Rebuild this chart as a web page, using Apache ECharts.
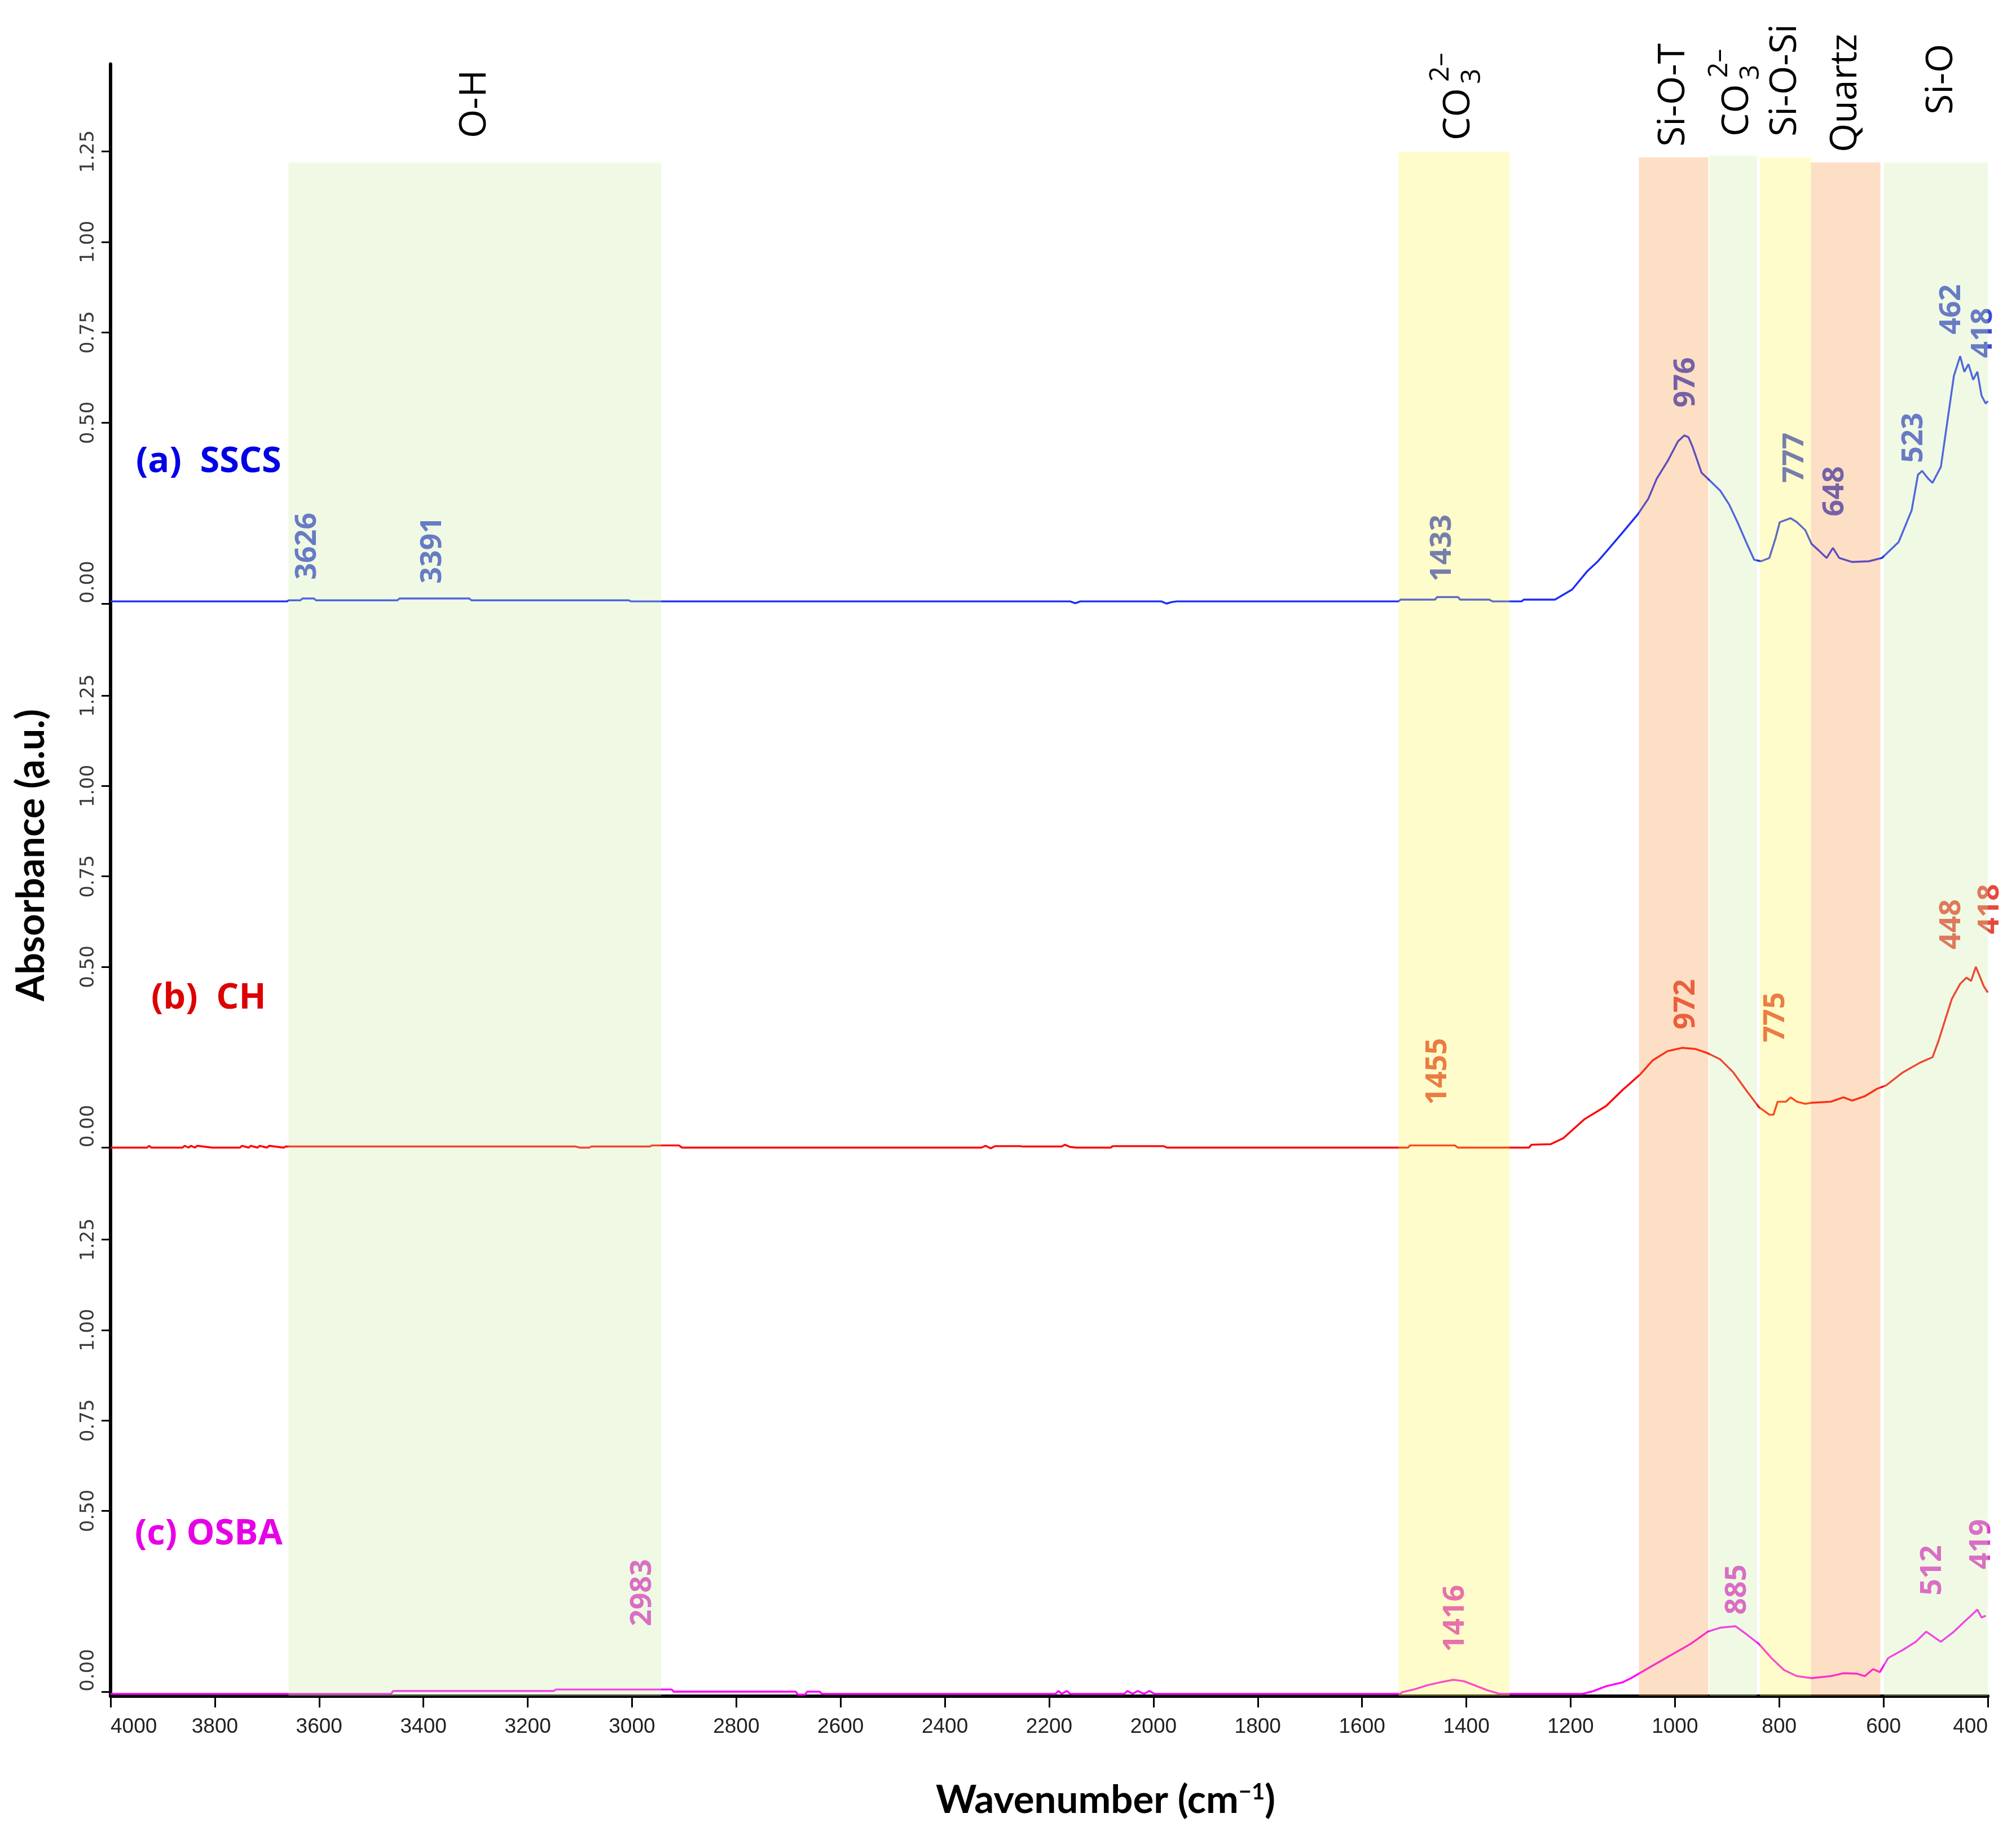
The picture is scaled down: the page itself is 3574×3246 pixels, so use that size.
<!DOCTYPE html>
<html>
<head>
<meta charset="utf-8">
<title>FTIR spectra</title>
<script src="https://cdn.jsdelivr.net/npm/echarts@6/dist/echarts.min.js"></script>
<style>
html, body { margin: 0; padding: 0; background: #fff; }
#chart { width: 3574px; height: 3246px; }
</style>
</head>
<body>
<div id="chart"></div>
<script>
// (a) SSCS spectrum
var sscsWn = [4000, 3662, 3658, 3636, 3632, 3610, 3606, 3450, 3446, 3312,
	3308, 3006, 3002, 2160, 2150, 2140, 1985, 1975, 1965, 1955,
	1530, 1526, 1460, 1456, 1416, 1412, 1356, 1350, 1294, 1290,
	1230, 1197, 1169, 1149, 1132, 1100, 1071, 1051, 1035, 1014,
	994, 982, 974, 966, 949, 933, 913, 896, 880, 860,
	848, 835, 819, 807, 799, 778, 766, 750, 738, 725,
	709, 697, 685, 660, 628, 603, 571, 546, 534, 526,
	514, 506, 490, 477, 465, 453, 445, 437, 428, 420,
	412, 404, 400];
var sscsAbs = [0.006, 0.006, 0.009, 0.009, 0.014, 0.014, 0.009, 0.009, 0.014, 0.014,
	0.009, 0.009, 0.006, 0.006, 0.001, 0.006, 0.006, 0.0, 0.004, 0.006,
	0.006, 0.011, 0.011, 0.018, 0.018, 0.011, 0.011, 0.006, 0.006, 0.011,
	0.011, 0.039, 0.088, 0.115, 0.143, 0.197, 0.247, 0.290, 0.345, 0.394,
	0.449, 0.465, 0.460, 0.433, 0.362, 0.340, 0.312, 0.274, 0.225, 0.159,
	0.121, 0.117, 0.126, 0.181, 0.225, 0.236, 0.225, 0.203, 0.165, 0.148,
	0.126, 0.154, 0.126, 0.115, 0.117, 0.126, 0.170, 0.258, 0.356, 0.367,
	0.345, 0.334, 0.378, 0.509, 0.630, 0.684, 0.641, 0.662, 0.619, 0.641,
	0.575, 0.553, 0.560];

// (b) CH spectrum
var chWn = [4000, 3930, 3926, 3922, 3862, 3858, 3850, 3846, 3838, 3834,
	3805, 3752, 3748, 3735, 3731, 3718, 3714, 3700, 3696, 3668,
	3664, 3628, 3624, 3108, 3100, 3082, 3078, 2966, 2962, 2910,
	2904, 2330, 2322, 2312, 2304, 2256, 2250, 2176, 2170, 2160,
	2148, 2142, 2082, 2078, 1980, 1974, 1512, 1508, 1422, 1416,
	1280, 1275, 1238, 1214, 1173, 1132, 1100, 1067, 1043, 1014,
	986, 961, 937, 913, 888, 864, 839, 819, 811, 803,
	787, 778, 766, 750, 738, 701, 677, 660, 636, 612,
	595, 563, 530, 506, 494, 481, 469, 453, 441, 432,
	423, 416, 408, 400];
var chAbs = [0, 0, 0.005, 0, 0, 0.005, 0, 0.005, 0, 0.005,
	0, 0, 0.005, 0, 0.005, 0, 0.005, 0, 0.005, 0,
	0.003, 0.003, 0.003, 0.003, 0, 0, 0.003, 0.003, 0.006, 0.006,
	0, 0, 0.005, -0.002, 0.004, 0.004, 0.003, 0.003, 0.008, 0.002,
	0, 0, 0, 0.004, 0.004, 0, 0, 0.006, 0.006, 0,
	0, 0.008, 0.0096, 0.026, 0.079, 0.115, 0.160, 0.202, 0.241, 0.267,
	0.276, 0.273, 0.261, 0.244, 0.208, 0.160, 0.112, 0.091, 0.091, 0.127,
	0.127, 0.139, 0.127, 0.121, 0.124, 0.127, 0.139, 0.130, 0.142, 0.163,
	0.172, 0.208, 0.235, 0.250, 0.297, 0.357, 0.411, 0.453, 0.470, 0.461,
	0.500, 0.476, 0.447, 0.429];

// (c) OSBA spectrum
var osbaWn = [4000, 3462, 3458, 3150, 3146, 2924, 2920, 2686, 2682, 2668,
	2664, 2640, 2636, 2188, 2182, 2176, 2166, 2160, 2056, 2050,
	2040, 2030, 2018, 2008, 1998, 1527, 1523, 1499, 1474, 1450,
	1425, 1405, 1385, 1360, 1336, 1177, 1157, 1132, 1100, 1084,
	1051, 1010, 970, 937, 913, 884, 864, 839, 815, 791,
	766, 738, 701, 677, 652, 636, 620, 607, 591, 563,
	538, 518, 506, 490, 465, 445, 428, 420, 412, 404];
var osbaAbs = [-0.006, -0.006, 0.002, 0.002, 0.006, 0.006, 0.0, 0.0, -0.008, -0.008,
	0.0, 0.0, -0.006, -0.006, 0.002, -0.006, 0.002, -0.006, -0.006, 0.002,
	-0.006, 0.002, -0.006, 0.002, -0.006, -0.006, -0.0015, 0.0068, 0.018, 0.026,
	0.033, 0.029, 0.018, 0.004, -0.006, -0.006, 0.0013, 0.015, 0.026, 0.0375,
	0.065, 0.099, 0.132, 0.166, 0.177, 0.181, 0.160, 0.132, 0.093, 0.060,
	0.043, 0.0375, 0.043, 0.051, 0.050, 0.043, 0.0625, 0.054, 0.093, 0.1155,
	0.138, 0.166, 0.154, 0.138, 0.166, 0.1935, 0.216, 0.227, 0.205, 0.210];

// peak annotations: where each label sits and what it says
var sscsPeakText = ['3626', '3391', '1433', '976', '777', '648', '523', '462', '418'];
var sscsPeakWn = [3622, 3382, 1446, 978, 770, 693, 542, 469, 408];
var sscsPeakAbs = [0.066, 0.055, 0.061, 0.542, 0.334, 0.241, 0.389, 0.744, 0.679];

var chPeakText = ['1455', '972', '775', '448', '418'];
var chPeakWn = [1454, 978, 807, 469, 396];
var chPeakAbs = [0.118, 0.327, 0.291, 0.548, 0.590];

var osbaPeakText = ['2983', '1416', '885', '512', '419'];
var osbaPeakWn = [2980, 1421, 880, 506, 412];
var osbaPeakAbs = [0.181, 0.110, 0.213, 0.266, 0.338];

// assignment bands (wavenumber ranges, top in panel (a) absorbance)
var bandName = ['O-H', 'CO3', 'Si-O-T', 'CO3', 'Si-O-Si', 'Quartz', 'Si-O'];
var bandStart = [3659, 1530, 1069, 934, 837, 739, 599];
var bandEnd = [2944, 1317, 936, 843, 739, 606, 378];
var bandTop = [1.22, 1.248, 1.234, 1.239, 1.234, 1.22, 1.22];
var bandKind = ['green', 'yellow', 'orange', 'green', 'yellow', 'orange', 'green'];

var yTicks = [0, 0.5, 0.75, 1.0, 1.25];

// ---- layout / style ----
var bandFill = {
	green: 'rgba(205,235,165,0.3)',
	yellow: 'rgba(252,245,78,0.3)',
	orange: 'rgba(250,150,62,0.3)'
};
var bandLabelBottom = [245, 249, 260, 242, 242, 270, 203];

var PANEL_MIN = -0.0125, PANEL_MAX = 1.4922;
var PANEL_TOPS = [113.5, 1078, 2042.5], PANEL_H = 964.5;
var GRID_LEFT = 196, GRID_RIGHT = 50;
var BG_MIN = PANEL_MIN - 2 * (PANEL_MAX - PANEL_MIN);

function zip(xs, ys) {
	var out = [];
	for (var i = 0; i < xs.length; i++) out.push([xs[i], ys[i]]);
	return out;
}
function peaks(wn, ab, txt) {
	var out = [];
	for (var i = 0; i < wn.length; i++) out.push({ name: txt[i], value: [wn[i], ab[i]] });
	return out;
}

var chartDom = document.getElementById('chart');
var myChart = echarts.init(chartDom, null, { renderer: 'canvas' });

var grids = [];
var xAxes = [];
var yAxes = [];
for (var g = 0; g < 3; g++) {
	grids.push({ left: GRID_LEFT, right: GRID_RIGHT, top: PANEL_TOPS[g], height: PANEL_H, outerBoundsMode: 'none' });
	xAxes.push({
		type: 'value', gridIndex: g, min: 400, max: 4000, interval: 200, inverse: true,
		show: g === 2,
		axisLine: { show: true, onZero: false, lineStyle: { color: '#000', width: 6 } },
		axisTick: { show: true, length: 20, lineStyle: { color: '#000', width: 3 } },
		axisLabel: {
			show: true, fontSize: 37, fontFamily: 'Liberation Sans', color: '#222', margin: 36,
			alignMinLabel: 'right', alignMaxLabel: 'left',
			formatter: function (v) { return String(v); }
		},
		splitLine: { show: false }
	});
	yAxes.push({
		type: 'value', gridIndex: g, min: PANEL_MIN, max: PANEL_MAX, position: 'left',
		axisLine: { show: true, onZero: false, lineStyle: { color: '#000', width: 6 } },
		axisTick: { show: true, length: 16, customValues: yTicks, lineStyle: { color: '#000', width: 3 } },
		axisLabel: {
			show: true, customValues: yTicks, rotate: 90, margin: 22,
			fontSize: 34, fontFamily: 'DejaVu Sans', color: '#3a3a3a',
			formatter: function (v) { return v === 0 ? '{z|0.00}' : v.toFixed(2); },
			rich: { z: { padding: [0, 0, 0, 76], fontSize: 34, fontFamily: 'DejaVu Sans', color: '#3a3a3a' } }
		},
		splitLine: { show: false }
	});
}
// background grid spanning all panels, carries the bands
grids.push({ left: GRID_LEFT, right: GRID_RIGHT, top: PANEL_TOPS[0], height: PANEL_H * 3, outerBoundsMode: 'none' });
xAxes.push({ type: 'value', gridIndex: 3, min: 400, max: 4000, inverse: true, show: false });
yAxes.push({ type: 'value', gridIndex: 3, min: BG_MIN, max: PANEL_MAX, show: false });

function lineSeries(idx, data, color) {
	return {
		type: 'line', xAxisIndex: idx, yAxisIndex: idx, data: data,
		showSymbol: false, symbol: 'none', silent: true, z: 2,
		lineStyle: { color: color, width: 3.4 }
	};
}
function labelSeries(idx, data, color) {
	return {
		type: 'scatter', xAxisIndex: idx, yAxisIndex: idx, data: data,
		symbolSize: 0, clip: false, silent: true, z: 3,
		itemStyle: { color: color },
		label: {
			show: true, position: [0, 0], rotate: 90, align: 'left', verticalAlign: 'middle',
			formatter: '{b}', color: color, fontSize: 52, fontWeight: 'bold', fontFamily: 'Open Sans',
			textBorderWidth: 0, textBorderColor: 'transparent'
		}
	};
}

var option = {
	animation: false,
	backgroundColor: '#fff',
	grid: grids,
	xAxis: xAxes,
	yAxis: yAxes,
	series: [
		lineSeries(0, zip(sscsWn, sscsAbs), '#1a2ef5'),
		lineSeries(1, zip(chWn, chAbs), '#ff0000'),
		lineSeries(2, zip(osbaWn, osbaAbs), '#ff00ff'),
		labelSeries(0, peaks(sscsPeakWn, sscsPeakAbs, sscsPeakText), '#0a1ec8'),
		labelSeries(1, peaks(chPeakWn, chPeakAbs, chPeakText), '#e01a0c'),
		labelSeries(2, peaks(osbaPeakWn, osbaPeakAbs, osbaPeakText), '#d608c6'),
		{
			type: 'custom', xAxisIndex: 3, yAxisIndex: 3, z: 10, silent: true,
			data: bandStart.map(function (s, i) { return [s, bandEnd[i], bandTop[i], i]; }),
			encode: { x: [0, 1], y: 2 },
			renderItem: function (params, api) {
				var i = api.value(3);
				var p1 = api.coord([api.value(0), api.value(2)]);
				var p2 = api.coord([api.value(1), BG_MIN]);
				var rect = {
					x: Math.min(p1[0], p2[0]), y: p1[1],
					width: Math.abs(p2[0] - p1[0]), height: p2[1] - p1[1]
				};
				var cs = params.coordSys;
				rect = echarts.graphic.clipRectByRect(rect, { x: cs.x, y: cs.y, width: cs.width, height: cs.height });
				if (!rect) return null;
				return { type: 'rect', shape: rect, style: { fill: bandFill[bandKind[i]] } };
			}
		}
	]
};

option && myChart.setOption(option);

// text on top: band assignments, axis names, panel names
var textFont = 'Open Sans';
var graphics = [];
for (var b = 0; b < bandName.length; b++) {
	var cx = myChart.convertToPixel({ xAxisIndex: 3 }, (bandStart[b] + bandEnd[b]) / 2);
	if (bandName[b] === 'CO3') {
		graphics.push({
			type: 'group', x: cx + 8, y: bandLabelBottom[b], rotation: Math.PI / 2, z: 100,
			children: [
				{ type: 'text', x: 0, y: 0, style: { text: 'CO', fontSize: 66, fontFamily: textFont, fill: '#000', align: 'left', verticalAlign: 'middle' } },
				{ type: 'text', x: 100, y: 24, style: { text: '3', fontSize: 48, fontFamily: textFont, fill: '#000', align: 'left', verticalAlign: 'middle' } },
				{ type: 'text', x: 104, y: -32, style: { text: '2\u2013', fontSize: 48, fontFamily: textFont, fill: '#000', align: 'left', verticalAlign: 'middle' } }
			]
		});
	} else {
		graphics.push({
			type: 'text', x: cx, y: bandLabelBottom[b], rotation: Math.PI / 2, z: 100,
			style: { text: bandName[b], fontSize: 66, fontFamily: textFont, fill: '#000', align: 'left', verticalAlign: 'middle' }
		});
	}
}
graphics.push({
	type: 'text', x: 56, y: 1516, rotation: Math.PI / 2, z: 100,
	style: { text: 'Absorbance (a.u.)', fontSize: 68, fontWeight: 'bold', fontFamily: 'Lato', fill: '#000', align: 'center', verticalAlign: 'middle' }
});
graphics.push({
	type: 'text', x: 1960, y: 3192, z: 100,
	style: {
		text: '{n|Wavenumber (cm}{s|\u22121}{n|)}', align: 'center', verticalAlign: 'middle',
		rich: {
			n: { fontSize: 69, fontWeight: 'bold', fontFamily: 'Lato', fill: '#000' },
			s: { fontSize: 40, fontWeight: 'bold', fontFamily: 'Lato', fill: '#000', verticalAlign: 'top' }
		}
	}
});
var panelNames = [
	{ text: '(a)  SSCS', x: 241, y: 819, color: '#0000e6' },
	{ text: '(b)  CH', x: 268, y: 1770, color: '#dd0000' },
	{ text: '(c) OSBA', x: 239, y: 2720, color: '#e600e6' }
];
panelNames.forEach(function (p) {
	graphics.push({
		type: 'text', x: p.x, y: p.y, z: 100,
		style: { text: p.text, fontSize: 63, fontWeight: 'bold', fontFamily: textFont, fill: p.color, align: 'left', verticalAlign: 'middle' }
	});
});

myChart.setOption({ graphic: graphics });
</script>
</body>
</html>
